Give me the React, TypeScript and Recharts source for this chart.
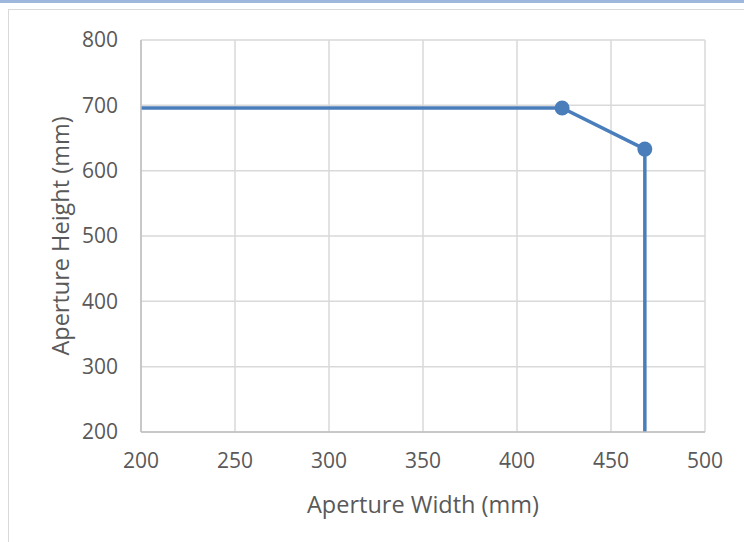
import React from 'react';
import {
  ComposedChart,
  Line,
  Scatter,
  XAxis,
  YAxis,
  CartesianGrid,
} from 'recharts';

// envelope outline: width (mm) vs height (mm)
const widths = [200, 424, 468, 468];
const heights = [696, 696, 633, 200];

// corner points that get a marker
const cornerWidths = [424, 468];
const cornerHeights = [696, 633];

const xTicks = [200, 250, 300, 350, 400, 450, 500];
const yTicks = [200, 300, 400, 500, 600, 700, 800];

const BLUE = '#4a7ebb';
const TEXT = '#595959';
const FONT = '"Open Sans", sans-serif';

const outline = widths.map((w, i) => ({ w, h: heights[i] }));
const corners = cornerWidths.map((w, i) => ({ w, h: cornerHeights[i] }));

export default function App() {
  return (
    <div
      style={{
        position: 'absolute',
        left: 0,
        top: 0,
        width: 744,
        height: 542,
        overflow: 'hidden',
        background: '#fff',
      }}
    >
      <div style={{ position: 'absolute', left: 0, top: 0, width: 744, height: 3, background: '#9db8dc' }} />
      <div
        style={{
          position: 'absolute',
          left: 8,
          top: 9,
          width: 800,
          height: 600,
          border: '1px solid #d9d9d9',
        }}
      />
      <div style={{ position: 'absolute', left: 0, top: 0 }}>
        <ComposedChart
          width={744}
          height={542}
          data={outline}
          margin={{ top: 40, right: 39, bottom: 10, left: 10 }}
        >
          <CartesianGrid stroke="#d9d9d9" strokeWidth={1.5} />
          <XAxis
            type="number"
            dataKey="w"
            domain={[200, 500]}
            ticks={xTicks}
            allowDataOverflow
            height={100}
            tickLine={false}
            tickSize={0}
            tickMargin={21}
            stroke="#bfbfbf"
            strokeWidth={1.5}
            tick={{ fill: TEXT, fontSize: 21, fontFamily: FONT }}
            label={{
              value: 'Aperture Width (mm)',
              position: 'insideBottom',
              offset: 19,
              fill: TEXT,
              fontSize: 23.5,
              fontFamily: FONT,
            }}
          />
          <YAxis
            type="number"
            dataKey="h"
            domain={[200, 800]}
            ticks={yTicks}
            allowDataOverflow
            width={131}
            tickLine={false}
            tickSize={0}
            tickMargin={23}
            stroke="#bfbfbf"
            strokeWidth={1.5}
            tick={{ fill: TEXT, fontSize: 21, fontFamily: FONT }}
            label={{
              value: 'Aperture Height (mm)',
              angle: -90,
              position: 'insideLeft',
              content: ({ viewBox }: any) => {
                const cx = viewBox.x + 50;
                const cy = viewBox.y + viewBox.height / 2;
                return (
                  <text
                    x={cx}
                    y={cy}
                    transform={`rotate(-90 ${cx} ${cy})`}
                    textAnchor="middle"
                    dominantBaseline="central"
                    fill={TEXT}
                    fontSize={23.5}
                    fontFamily={FONT}
                  >
                    Aperture Height (mm)
                  </text>
                );
              },
            }}
          />
          <Line
            type="linear"
            dataKey="h"
            stroke={BLUE}
            strokeWidth={3.5}
            dot={false}
            isAnimationActive={false}
          />
          <Scatter
            data={corners}
            dataKey="h"
            fill={BLUE}
            shape={(p: any) => <circle cx={p.cx} cy={p.cy} r={7.5} fill={BLUE} />}
            isAnimationActive={false}
          />
        </ComposedChart>
      </div>
    </div>
  );
}
